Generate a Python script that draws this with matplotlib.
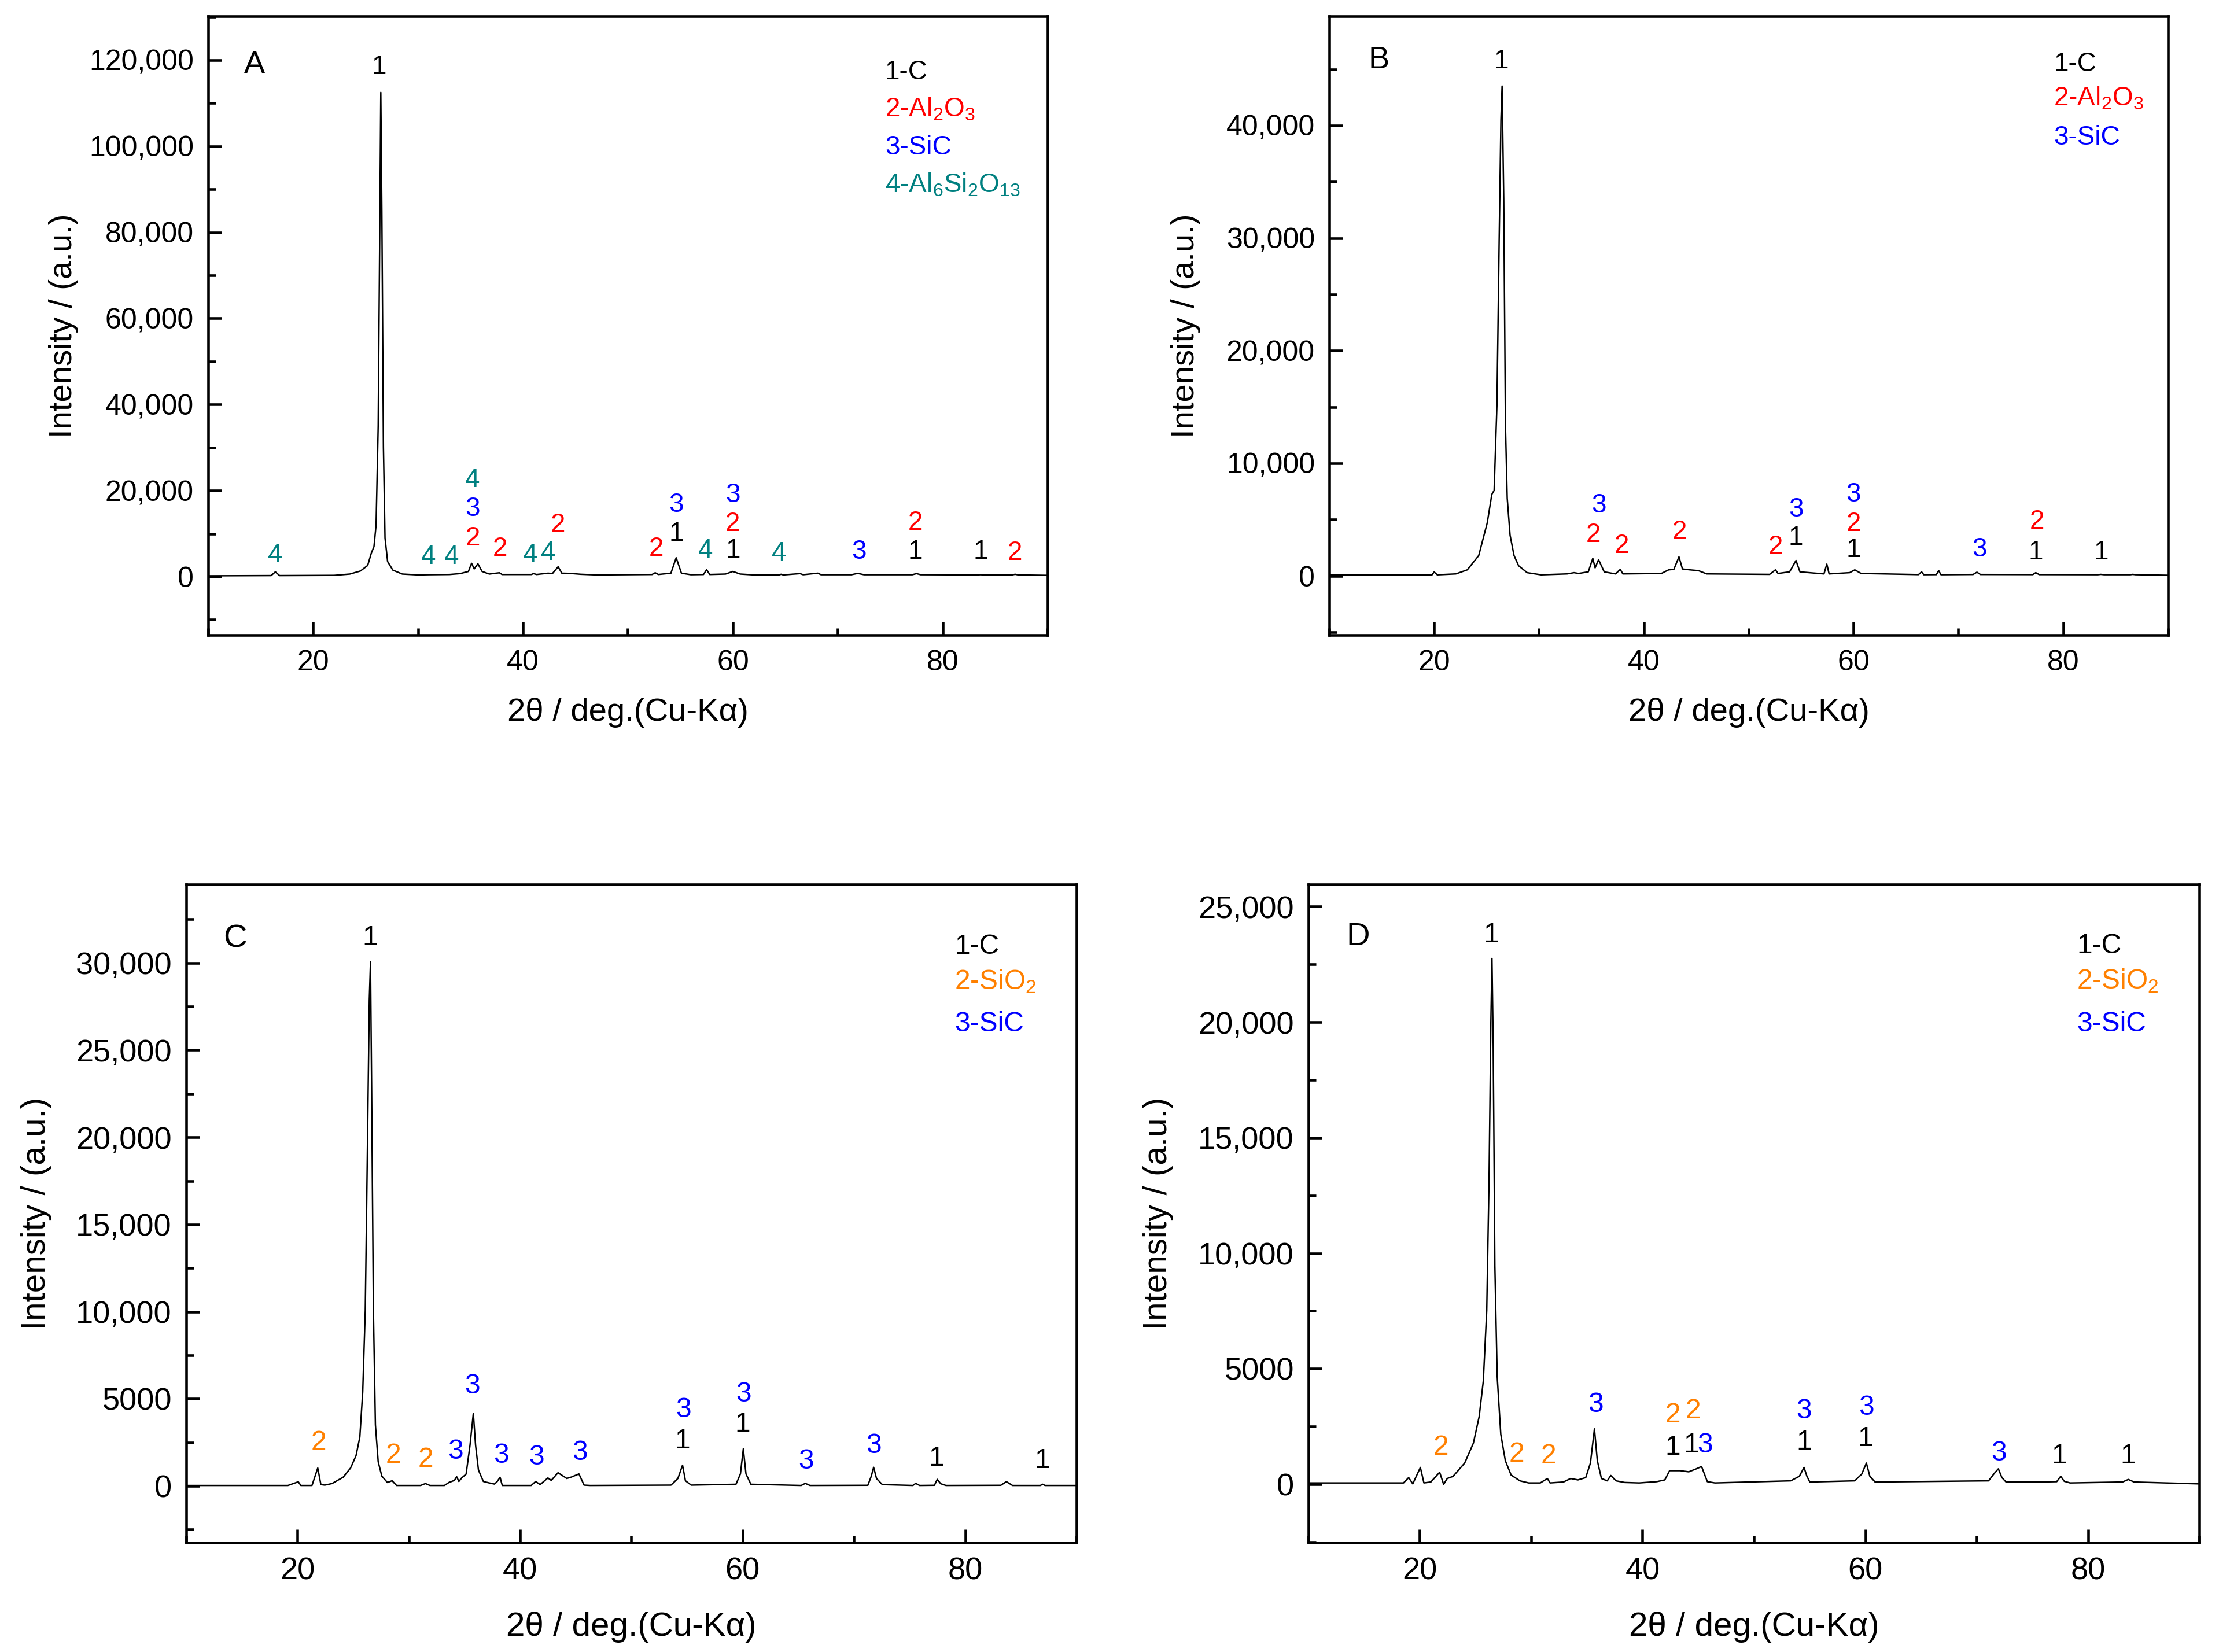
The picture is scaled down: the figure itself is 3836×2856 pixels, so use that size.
import matplotlib
matplotlib.use("Agg")
import matplotlib.pyplot as plt
from matplotlib.ticker import MultipleLocator, FuncFormatter

plt.rcParams['font.family'] = ['Liberation Sans', 'DejaVu Sans']
plt.rcParams['mathtext.fontset'] = 'custom'
plt.rcParams['mathtext.rm'] = 'Liberation Sans'

BLACK, RED, BLUE, TEAL, ORANGE = '#000000', '#FF0000', '#0000FF', '#008080', '#FF8000'

# ---------------- Panel A data ----------------
tt_A = [10.0, 16.0, 16.4, 16.8, 22.0, 23.5, 24.5, 25.2, 25.55, 25.8, 26.0, 26.2, 26.35, 26.45,
        26.55, 26.7, 26.85, 27.1, 27.6, 28.5, 30.0, 31.0, 33.0, 33.5, 34.0, 34.8, 35.1, 35.35,
        35.7, 36.1, 36.8, 37.75, 38.0, 40.8, 41.0, 41.3, 42.4, 42.8, 43.35, 43.7, 44.5, 45.5,
        47.0, 52.3, 52.6, 52.9, 54.1, 54.6, 55.1, 56.0, 57.2, 57.5, 57.8, 59.3, 60.0, 60.7,
        62.0, 64.4, 64.6, 64.8, 66.4, 66.7, 68.1, 68.4, 71.3, 71.9, 72.5, 77.1, 77.5, 77.9,
        83.3, 83.6, 83.9, 86.6, 86.9, 87.2, 90.0]
I_A = [200, 250, 1100, 250, 300, 600, 1300, 2600, 5500, 7000, 12000, 35000, 80000, 112500,
       85000, 30000, 9000, 3500, 1500, 600, 400, 450, 500, 600, 700, 1200, 3100, 1800,
       3000, 1200, 600, 900, 500, 500, 700, 500, 800, 700, 2300, 800, 750, 550,
       400, 500, 900, 500, 800, 4400, 800, 450, 500, 1600, 500, 600, 1200, 600,
       400, 400, 550, 400, 700, 450, 800, 450, 450, 750, 450, 450, 700, 450,
       400, 450, 400, 400, 550, 400, 300]
lab_x_A = [16.4, 26.3, 31.0, 33.2, 35.2, 35.2, 35.2, 37.8, 40.7, 42.4, 43.3, 52.7, 54.6, 54.6,
           57.4, 60.0, 60.0, 60.0, 64.4, 72.0, 77.4, 77.4, 83.6, 86.9]
lab_y_A = [5000, 118400, 4600, 4600, 8800, 15650, 22400, 6500, 5000, 5560, 11900, 6500, 10000, 16600,
           6000, 6000, 12200, 19000, 5400, 5750, 5750, 12500, 5750, 5560]
lab_t_A = ['4', '1', '4', '4', '2', '3', '4', '2', '4', '4', '2', '2', '1', '3',
           '4', '1', '2', '3', '4', '3', '1', '2', '1', '2']
lab_c_A = [TEAL, BLACK, TEAL, TEAL, RED, BLUE, TEAL, RED, TEAL, TEAL, RED, RED, BLACK, BLUE,
           TEAL, BLACK, RED, BLUE, TEAL, BLUE, BLACK, RED, BLACK, RED]
leg_t_A = ['1-C', r'2-Al$\mathregular{_2}$O$\mathregular{_3}$', '3-SiC',
           r'4-Al$\mathregular{_6}$Si$\mathregular{_2}$O$\mathregular{_{13}}$']
leg_c_A = [BLACK, RED, BLUE, TEAL]
leg_y_A = [115600, 106830, 98060, 89290]

# ---------------- Panel B data ----------------
tt_B = [10.0, 19.8, 20.0, 20.3, 22.07, 23.16, 24.25, 25.06, 25.5, 25.72, 25.99, 26.2, 26.37, 26.48,
        26.64, 26.8, 26.97, 27.24, 27.62, 28.06, 28.87, 30.2, 32.68, 33.34, 33.77, 34.7, 35.13,
        35.35, 35.68, 36.22, 37.3, 37.75, 38.0, 41.67, 42.37, 42.86, 43.35, 43.68, 44.39, 45.2,
        46.0, 52.0, 52.55, 52.8, 53.9, 54.51, 54.89, 57.18, 57.45, 57.67, 59.63, 60.12, 60.72,
        66.2, 66.49, 66.7, 67.9, 68.12, 68.34, 71.4, 71.77, 72.1, 77.1, 77.38, 77.7, 83.3, 83.58,
        83.9, 86.4, 86.63, 86.9, 90.0]
I_B = [100, 100, 350, 100, 180, 540, 1810, 4700, 7240, 7600, 15200, 29700, 40500, 43500,
       33300, 13400, 6900, 3620, 1810, 900, 290, 100, 180, 290, 220, 360, 1560,
       720, 1450, 360, 180, 580, 180, 220, 540, 580, 1700, 620, 540, 470,
       180, 140, 540, 220, 360, 1375, 360, 180, 1050, 180, 290, 540, 220,
       120, 360, 110, 120, 470, 110, 130, 330, 130, 120, 290, 120, 110, 140,
       110, 110, 140, 110, 60]
lab_x_B = [26.4, 35.7, 35.2, 37.9, 43.4, 52.55, 54.5, 54.5, 60.0, 60.0, 60.0, 72.0, 77.4, 77.5, 83.6]
lab_y_B = [45700, 6260, 3620, 2640, 3870, 2530, 3370, 5900, 2280, 4630, 7240, 2350, 2100, 4810, 2100]
lab_t_B = ['1', '3', '2', '2', '2', '2', '1', '3', '1', '2', '3', '3', '1', '2', '1']
lab_c_B = [BLACK, BLUE, RED, RED, RED, RED, BLACK, BLUE, BLACK, RED, BLUE, BLUE, BLACK, RED, BLACK]
leg_t_B = ['1-C', r'2-Al$\mathregular{_2}$O$\mathregular{_3}$', '3-SiC']
leg_c_B = [BLACK, RED, BLUE]
leg_y_B = [44800, 41740, 38300]

# ---------------- Panel C data ----------------
tt_C = [10.0, 19.14, 20.07, 20.3, 21.3, 21.82, 22.1, 22.45, 23.1, 24.1, 24.77, 25.26, 25.6, 25.86,
        26.09, 26.3, 26.45, 26.56, 26.66, 26.82, 27.0, 27.25, 27.58, 28.08, 28.5, 28.9, 31.06,
        31.5, 31.9, 33.2, 33.6, 34.1, 34.3, 34.5, 34.75, 35.15, 35.5, 35.8, 36.0, 36.26, 36.7,
        37.2, 37.7, 37.95, 38.2, 38.4, 41.0, 41.4, 41.8, 42.5, 42.8, 43.41, 44.2, 44.6, 45.29,
        45.75, 46.3, 53.56, 54.18, 54.6, 54.86, 55.38, 59.4, 59.8, 60.06, 60.3, 60.74, 65.26,
        65.63, 66.05, 71.25, 71.56, 71.77, 72.03, 72.55, 75.3, 75.55, 75.9, 77.23, 77.49, 77.8,
        78.27, 83.2, 83.7, 84.25, 86.75, 86.96, 87.17, 90.0]
I_C = [30, 30, 240, 30, 30, 1030, 80, 50, 140, 500, 1030, 1740, 2800, 5400,
       10080, 20200, 27860, 30070, 22800, 10080, 3500, 1390, 560, 200, 300, 30, 30,
       140, 30, 30, 200, 320, 530, 260, 460, 680, 2330, 4170, 2330, 910, 260,
       180, 110, 260, 500, 30, 30, 260, 80, 460, 320, 760, 430, 510, 690,
       50, 30, 50, 430, 1190, 300, 50, 100, 690, 2130, 690, 100, 30,
       150, 30, 40, 560, 1070, 430, 80, 30, 150, 30, 40, 380, 130,
       30, 40, 250, 30, 30, 100, 30, 30]
lab_x_C = [26.5, 21.9, 28.6, 31.5, 34.2, 35.7, 38.3, 41.5, 45.4, 54.6, 54.7, 60.0, 60.1, 65.7,
           71.8, 77.4, 86.9]
lab_y_C = [31420, 2460, 1750, 1500, 1960, 5720, 1750, 1650, 1900, 2560, 4370, 3530, 5260, 1400,
           2290, 1570, 1450]
lab_t_C = ['1', '2', '2', '2', '3', '3', '3', '3', '3', '1', '3', '1', '3', '3', '3', '1', '1']
lab_c_C = [BLACK, ORANGE, ORANGE, ORANGE, BLUE, BLUE, BLUE, BLUE, BLUE, BLACK, BLUE, BLACK, BLUE,
           BLUE, BLUE, BLACK, BLACK]
leg_t_C = ['1-C', r'2-SiO$\mathregular{_2}$', '3-SiC']
leg_c_C = [BLACK, ORANGE, BLUE]
leg_y_C = [30530, 28500, 26090]

# ---------------- Panel D data ----------------
tt_D = [10.0, 18.54, 19.0, 19.37, 20.05, 20.37, 20.99, 21.78, 22.14, 22.46, 22.98, 24.03, 24.81,
        25.33, 25.7, 26.01, 26.22, 26.38, 26.48, 26.59, 26.74, 26.95, 27.27, 27.68, 28.2, 28.99,
        29.78, 30.82, 31.45, 31.7, 32.9, 33.54, 34.2, 34.9, 35.32, 35.68, 35.94, 36.31, 36.83,
        37.15, 37.62, 38.4, 39.7, 41.28, 42.0, 42.43, 43.37, 44.15, 44.83, 45.3, 45.56, 45.82,
        46.5, 53.3, 54.08, 54.5, 54.76, 55.02, 59.05, 59.68, 60.1, 60.41, 60.88, 71.07, 71.6,
        71.95, 72.27, 72.64, 75.62, 77.19, 77.55, 77.87, 78.39, 83.1, 83.62, 84.14, 89.9]
I_D = [60, 60, 290, 20, 730, 60, 100, 520, 0, 250, 340, 920, 1780,
       2930, 4460, 7530, 13280, 19980, 22760, 19030, 9450, 4660, 2170, 1020, 400, 150,
       60, 60, 250, 60, 100, 250, 190, 290, 920, 2400, 1020, 250, 150,
       380, 150, 80, 60, 115, 190, 590, 590, 540, 670, 770, 440, 115,
       60, 150, 345, 730, 345, 100, 150, 440, 920, 345, 100, 150, 480,
       670, 290, 100, 100, 115, 345, 130, 60, 100, 210, 100, 20]
lab_x_D = [26.4, 21.9, 28.7, 31.55, 35.8, 42.7, 44.55, 42.7, 44.4, 45.6, 54.5, 54.5, 60.1, 60.0,
           72.0, 77.4, 83.6]
lab_y_D = [23780, 1590, 1300, 1210, 3450, 2990, 3160, 1590, 1690, 1690, 3160, 1820, 3310, 1970,
           1340, 1210, 1210]
lab_t_D = ['1', '2', '2', '2', '3', '2', '2', '1', '1', '3', '3', '1', '3', '1', '3', '1', '1']
lab_c_D = [BLACK, ORANGE, ORANGE, ORANGE, BLUE, ORANGE, ORANGE, BLACK, BLACK, BLUE, BLUE, BLACK,
           BLUE, BLACK, BLUE, BLACK, BLACK]
leg_t_D = ['1-C', r'2-SiO$\mathregular{_2}$', '3-SiC']
leg_c_D = [BLACK, ORANGE, BLUE]
leg_y_D = [22990, 21460, 19600]

# ---------------- Figure ----------------
fig = plt.figure(figsize=(12.79, 9.52), dpi=300)


def fmt(v, pos):
    v = int(round(v))
    return f'{v:,}' if abs(v) >= 10000 else f'{v}'


panels = [
    dict(rect=[0.0938, 0.6155, 0.3782, 0.3747], ylim=(-13600, 130200), maj=20000, mnr=10000,
         tt=tt_A, I=I_A, lx=lab_x_A, ly=lab_y_A, lt=lab_t_A, lc=lab_c_A,
         gt=leg_t_A, gc=leg_c_A, gy=leg_y_A, gx=74.5, letter='A', let_pos=(13.4, 117000),
         tfs=12, afs=13.5, pfs=11, ylc=-0.172, xlc=-0.125),
    dict(rect=[0.5989, 0.6155, 0.3779, 0.3747], ylim=(-5260, 49700), maj=10000, mnr=5000,
         tt=tt_B, I=I_B, lx=lab_x_B, ly=lab_y_B, lt=lab_t_B, lc=lab_c_B,
         gt=leg_t_B, gc=leg_c_B, gy=leg_y_B, gx=79.1, letter='B', let_pos=(13.7, 45070),
         tfs=12, afs=13.5, pfs=11, ylc=-0.171, xlc=-0.125),
    dict(rect=[0.0839, 0.0662, 0.4011, 0.3984], ylim=(-3250, 34500), maj=5000, mnr=2500,
         tt=tt_C, I=I_C, lx=lab_x_C, ly=lab_y_C, lt=lab_t_C, lc=lab_c_C,
         gt=leg_t_C, gc=leg_c_C, gy=leg_y_C, gx=79.05, letter='C', let_pos=(13.35, 30910),
         tfs=13, afs=14, pfs=11.5, ylc=-0.1685, xlc=-0.128),
    dict(rect=[0.5895, 0.0662, 0.4014, 0.3984], ylim=(-2525, 25960), maj=5000, mnr=2500,
         tt=tt_D, I=I_D, lx=lab_x_D, ly=lab_y_D, lt=lab_t_D, lc=lab_c_D,
         gt=leg_t_D, gc=leg_c_D, gy=leg_y_D, gx=79.0, letter='D', let_pos=(13.4, 23340),
         tfs=13, afs=14, pfs=11.5, ylc=-0.1685, xlc=-0.128),
]

for p in panels:
    ax = fig.add_axes(p['rect'])
    ax.plot(p['tt'], p['I'], color='black', lw=0.6)
    ax.set_xlim(10, 90)
    ax.set_ylim(*p['ylim'])
    ax.xaxis.set_major_locator(MultipleLocator(20))
    ax.xaxis.set_minor_locator(MultipleLocator(10))
    ax.yaxis.set_major_locator(MultipleLocator(p['maj']))
    ax.yaxis.set_minor_locator(MultipleLocator(p['mnr']))
    ax.yaxis.set_major_formatter(FuncFormatter(fmt))
    ax.tick_params(which='both', direction='in', top=False, right=False, width=1.1,
                   labelsize=p['tfs'], pad=6)
    ax.tick_params(which='major', length=5.5)
    ax.tick_params(which='minor', length=3)
    for s in ax.spines.values():
        s.set_linewidth(1.1)
    ax.set_xlabel('2θ / deg.(Cu-Kα)', fontsize=p['afs'])
    ax.set_ylabel('Intensity / (a.u.)', fontsize=p['afs'])
    ax.yaxis.label.set_va('center')
    ax.yaxis.set_label_coords(p['ylc'], 0.5)
    ax.xaxis.label.set_va('center')
    ax.xaxis.set_label_coords(0.5, p['xlc'])
    for x, y, t, c in zip(p['lx'], p['ly'], p['lt'], p['lc']):
        ax.text(x, y, t, color=c, fontsize=p['pfs'], ha='center', va='center')
    for t, c, y in zip(p['gt'], p['gc'], p['gy']):
        ax.text(p['gx'], y, t, color=c, fontsize=p['pfs'], ha='left', va='baseline')
    ax.text(p['let_pos'][0], p['let_pos'][1], p['letter'], fontsize=p['afs'] - 0.5,
            ha='left', va='baseline')

fig.savefig('out.png', dpi=300)
